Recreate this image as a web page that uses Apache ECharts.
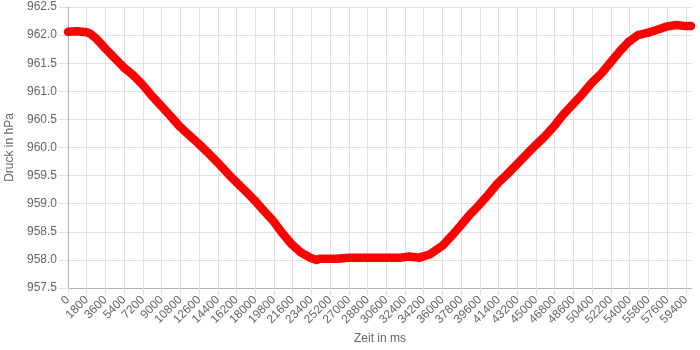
<!DOCTYPE html>
<html>
<head>
<meta charset="utf-8">
<script src="https://cdn.jsdelivr.net/npm/echarts@6/dist/echarts.min.js"></script>
<style>html,body{margin:0;padding:0;background:#fff}#c{width:700px;height:350px}</style>
</head>
<body>
<div id="c"></div>
<script>
var timeMs = [0, 900, 1800, 2100, 2700, 3600, 4700, 5400, 6300, 7200, 8200, 9000, 9900, 10700, 11700, 12600, 13600, 14400, 15400, 16200, 17200, 18000, 18800, 19700, 20500, 21500, 22400, 23300, 23900, 24200, 25100, 25800, 27000, 28800, 30600, 32000, 32800, 33800, 34800, 36000, 36900, 37800, 38600, 39500, 40400, 41300, 42200, 43100, 44100, 44900, 45800, 46700, 47600, 48600, 49500, 50300, 51300, 52200, 53000, 53900, 54800, 55700, 56600, 57500, 58500, 59400, 59900];
var pressure = [962.06, 962.07, 962.05, 962.03, 961.94, 961.76, 961.55, 961.42, 961.28, 961.11, 960.89, 960.73, 960.55, 960.38, 960.21, 960.06, 959.88, 959.73, 959.53, 959.38, 959.20, 959.05, 958.88, 958.70, 958.50, 958.28, 958.13, 958.04, 958.00, 958.02, 958.02, 958.02, 958.04, 958.04, 958.04, 958.04, 958.06, 958.04, 958.10, 958.25, 958.43, 958.62, 958.80, 958.97, 959.16, 959.36, 959.52, 959.69, 959.88, 960.03, 960.19, 960.37, 960.58, 960.78, 960.96, 961.14, 961.32, 961.52, 961.70, 961.88, 962.00, 962.04, 962.09, 962.15, 962.18, 962.16, 962.16];
var xTickStep = 1800;
var yTicks = [957.5, 958.0, 958.5, 959.0, 959.5, 960.0, 960.5, 961.0, 961.5, 962.0, 962.5];
var xTitle = 'Zeit in ms';
var yTitle = 'Druck in hPa';

var points = timeMs.map(function (t, i) { return [t, pressure[i]]; });
var font = 'Liberation Sans, Arial, Helvetica, sans-serif';
var chart = echarts.init(document.getElementById('c'), null, {renderer: 'canvas'});
chart.setOption({
  animation: false,
  backgroundColor: '#fff',
  grid: {left: 68, right: 8, top: 7, bottom: 62, containLabel: false, outerBoundsMode: 'none'},
  xAxis: {
    type: 'value',
    min: 0,
    max: 60000,
    interval: xTickStep,
    name: xTitle,
    nameLocation: 'middle',
    nameGap: 44,
    nameTextStyle: {color: '#666', fontSize: 12, fontFamily: font},
    axisLine: {show: true, lineStyle: {color: '#b3b3b3', width: 1}},
    axisTick: {show: true, length: 8, lineStyle: {color: '#e0e0e0'}},
    axisLabel: {rotate: 45, margin: 10, color: '#666', fontSize: 12, fontFamily: font, showMaxLabel: false, hideOverlap: false,
      formatter: function (v) { return String(Math.round(v)); }},
    splitLine: {show: true, showMaxLine: false, lineStyle: {color: '#e0e0e0', width: 1}}
  },
  yAxis: {
    type: 'value',
    min: yTicks[0],
    max: yTicks[yTicks.length - 1],
    interval: 0.5,
    name: yTitle,
    nameLocation: 'middle',
    nameGap: 50,
    nameTextStyle: {color: '#666', fontSize: 12, fontFamily: font},
    axisLine: {show: true, lineStyle: {color: '#b3b3b3', width: 1}},
    axisTick: {show: true, length: 9, lineStyle: {color: '#e0e0e0'}},
    axisLabel: {margin: 11, color: '#666', fontSize: 12, fontFamily: font, formatter: function (v) { return v.toFixed(1); }},
    splitLine: {show: true, lineStyle: {color: '#e0e0e0', width: 1}}
  },
  series: [{
    type: 'line',
    data: points,
    showSymbol: false,
    symbol: 'none',
    lineStyle: {color: '#ff0000', width: 8.5, cap: 'round', join: 'round'},
    itemStyle: {color: '#ff0000'}
  }]
});
</script>
</body>
</html>
